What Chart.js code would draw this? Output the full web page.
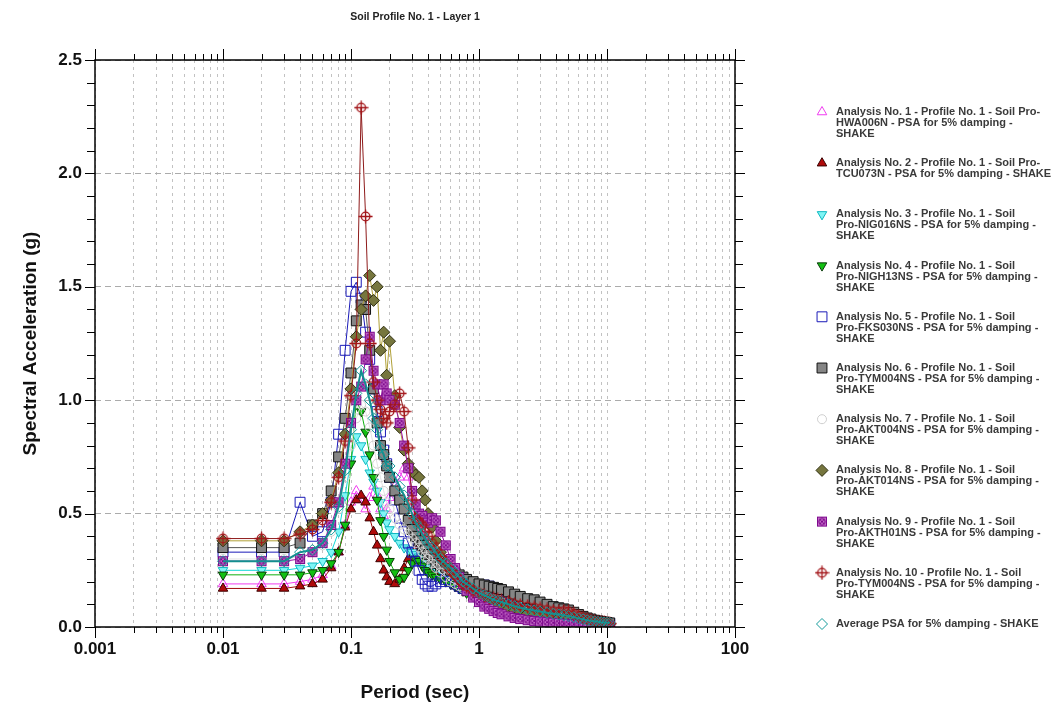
<!DOCTYPE html>
<html>
<head>
<meta charset="utf-8">
<title>Soil Profile No. 1 - Layer 1</title>
<script src="https://cdn.jsdelivr.net/npm/chart.js@4.4.1/dist/chart.umd.min.js"></script>
<style>
  html, body { margin: 0; padding: 0; background: #fff; }
  #wrap { position: relative; width: 1053px; height: 704px; }
</style>
</head>
<body>
<div id="wrap"><canvas id="chart"></canvas></div>
<script>
// spectral periods (sec) shared by every analysis
const periods = [
  0.01, 0.02, 0.03, 0.04, 0.05, 0.06, 0.07, 0.08, 0.09, 0.10,
  0.11, 0.12, 0.13, 0.14, 0.15, 0.16, 0.17, 0.18, 0.19, 0.20,
  0.22, 0.24, 0.26, 0.28, 0.30, 0.32, 0.34, 0.36, 0.38, 0.40,
  0.43, 0.46, 0.50, 0.55, 0.60, 0.65, 0.70, 0.75, 0.80, 0.90,
  1.0, 1.1, 1.2, 1.3, 1.4, 1.5, 1.7, 1.9, 2.1, 2.4,
  2.7, 3.0, 3.4, 3.8, 4.2, 4.6, 5.0, 5.5, 6.0, 6.5,
  7.0, 7.5, 8.0, 8.5, 9.0, 9.5, 10.0, 10.5
];

// PSA (g), 5% damping
const psaHWA006N = [
  .19, .19, .19, .20, .21, .23, .27, .33, .45, .55,
  .60, .56, .52, .57, .62, .58, .52, .49, .52, .57,
  .62, .66, .70, .66, .58, .50, .46, .43, .40, .38,
  .35, .33, .30, .27, .24, .22, .20, .18, .17, .15,
  .13, .12, .11, .10, .09, .085, .075, .065, .058, .05,
  .045, .04, .036, .032, .029, .026, .024, .022, .02, .018,
  .017, .016, .015, .014, .013, .012, .012, .011
];
const psaTCU073N = [
  .17, .17, .17, .18, .19, .21, .26, .33, .44, .52,
  .56, .58, .55, .48, .42, .36, .30, .25, .22, .20,
  .19, .21, .26, .30, .33, .35, .33, .30, .28, .26,
  .25, .24, .24, .22, .20, .18, .17, .16, .15, .13,
  .12, .11, .10, .09, .085, .08, .07, .065, .06, .055,
  .05, .045, .04, .036, .033, .03, .028, .025, .022, .02,
  .018, .016, .015, .014, .013, .012, .011, .010
];
const psaNIG016NS = [
  .25, .25, .25, .26, .27, .29, .33, .42, .58, .74,
  .84, .80, .74, .68, .64, .60, .55, .50, .46, .43,
  .40, .37, .35, .34, .33, .32, .31, .30, .29, .28,
  .27, .26, .25, .24, .22, .21, .20, .19, .18, .17,
  .16, .155, .15, .145, .14, .135, .13, .125, .12, .115,
  .11, .11, .105, .09, .075, .065, .058, .05, .044, .038,
  .034, .03, .027, .024, .022, .02, .018, .016
];
const psaNIGH13NS = [
  .23, .23, .23, .23, .24, .25, .28, .33, .45, .72,
  1.00, .95, .86, .76, .66, .56, .47, .40, .34, .29,
  .24, .21, .22, .25, .28, .30, .29, .27, .25, .24,
  .23, .22, .21, .20, .19, .18, .17, .16, .15, .14,
  .13, .12, .115, .11, .10, .095, .085, .08, .075, .07,
  .065, .06, .055, .05, .046, .042, .04, .036, .032, .029,
  .026, .024, .022, .02, .018, .017, .016, .015
];
const psaFKS030NS = [
  .33, .33, .33, .55, .40, .42, .55, .85, 1.22, 1.48,
  1.52, 1.45, 1.30, 1.18, 1.05, .95, .86, .78, .72, .66,
  .56, .48, .42, .37, .33, .29, .25, .21, .19, .18,
  .18, .19, .20, .21, .20, .19, .18, .17, .17, .17,
  .18, .185, .18, .17, .155, .14, .12, .11, .10, .09,
  .08, .072, .065, .058, .052, .047, .043, .038, .034, .03,
  .027, .025, .023, .021, .019, .018, .017, .016
];
const psaTYM004NS = [
  .35, .35, .35, .37, .45, .50, .60, .75, .92, 1.12,
  1.35, 1.42, 1.40, 1.22, 1.05, .90, .80, .76, .71, .66,
  .60, .56, .52, .47, .43, .40, .38, .36, .34, .32,
  .30, .28, .27, .26, .25, .24, .23, .22, .21, .20,
  .19, .185, .18, .175, .17, .165, .155, .145, .135, .125,
  .12, .11, .10, .09, .085, .08, .075, .065, .055, .047,
  .04, .035, .03, .027, .024, .022, .02, .018
];
const psaAKT004NS = [
  .30, .30, .30, .31, .33, .36, .42, .52, .66, .80,
  .92, .98, .95, .88, .80, .72, .66, .60, .55, .52,
  .48, .45, .43, .41, .39, .37, .35, .33, .31, .30,
  .28, .26, .24, .22, .20, .19, .18, .17, .16, .15,
  .14, .13, .12, .11, .105, .10, .09, .08, .075, .068,
  .062, .057, .052, .048, .044, .041, .038, .034, .031, .028,
  .025, .023, .021, .019, .018, .017, .016, .015
];
const psaAKT014NS = [
  .38, .38, .38, .42, .45, .50, .56, .68, .85, 1.05,
  1.28, 1.40, 1.46, 1.55, 1.44, 1.50, 1.22, 1.30, 1.11, 1.26,
  1.02, .88, .78, .72, .69, .67, .66, .60, .56, .50,
  .44, .38, .33, .29, .26, .23, .21, .19, .17, .15,
  .13, .12, .11, .10, .095, .09, .08, .072, .066, .06,
  .055, .05, .046, .042, .039, .036, .034, .03, .027, .025,
  .023, .021, .019, .018, .017, .016, .015, .014
];
const psaAKTH01NS = [
  .29, .29, .29, .30, .33, .37, .45, .55, .72, .90,
  1.00, 1.06, 1.18, 1.28, 1.13, 1.07, 1.00, 1.07, 1.03, 1.00,
  .98, .90, .80, .70, .60, .54, .50, .49, .47, .46,
  .48, .47, .42, .36, .30, .26, .22, .19, .16, .13,
  .11, .09, .08, .07, .062, .056, .047, .04, .035, .03,
  .027, .024, .021, .019, .017, .015, .014, .012, .011, .010,
  .009, .008, .008, .007, .007, .006, .006, .005
];
const psaTYM004NS10 = [
  .39, .39, .39, .41, .43, .47, .55, .66, .82, 1.02,
  1.25, 2.29, 1.81, 1.25, 1.08, 1.00, .96, .92, .90, .95,
  .98, 1.03, .95, .79, .56, .48, .46, .45, .42, .40,
  .37, .34, .31, .28, .25, .23, .21, .19, .18, .16,
  .15, .14, .13, .125, .12, .115, .11, .10, .095, .09,
  .085, .08, .075, .07, .068, .07, .068, .058, .048, .04,
  .034, .029, .025, .022, .02, .018, .016, .015
];
const psaAverage = [
  .29, .29, .29, .33, .34, .37, .43, .53, .69, .87,
  1.03, 1.13, 1.07, 1.00, .92, .87, .79, .76, .71, .71,
  .66, .62, .58, .54, .50, .46, .44, .41, .39, .37,
  .35, .33, .30, .28, .26, .24, .22, .20, .19, .17,
  .15, .14, .13, .12, .115, .11, .10, .092, .085, .078,
  .073, .068, .063, .058, .055, .052, .048, .043, .038, .034,
  .03, .027, .025, .023, .021, .02, .019, .018
];

const legendLines = [
  ['Analysis No. 1 - Profile No. 1 - Soil Pro-', 'HWA006N - PSA for 5% damping -', 'SHAKE'],
  ['Analysis No. 2 - Profile No. 1 - Soil Pro-', 'TCU073N - PSA for 5% damping - SHAKE'],
  ['Analysis No. 3 - Profile No. 1 - Soil', 'Pro-NIG016NS - PSA for 5% damping -', 'SHAKE'],
  ['Analysis No. 4 - Profile No. 1 - Soil', 'Pro-NIGH13NS - PSA for 5% damping -', 'SHAKE'],
  ['Analysis No. 5 - Profile No. 1 - Soil', 'Pro-FKS030NS - PSA for 5% damping -', 'SHAKE'],
  ['Analysis No. 6 - Profile No. 1 - Soil', 'Pro-TYM004NS - PSA for 5% damping -', 'SHAKE'],
  ['Analysis No. 7 - Profile No. 1 - Soil', 'Pro-AKT004NS - PSA for 5% damping -', 'SHAKE'],
  ['Analysis No. 8 - Profile No. 1 - Soil', 'Pro-AKT014NS - PSA for 5% damping -', 'SHAKE'],
  ['Analysis No. 9 - Profile No. 1 - Soil', 'Pro-AKTH01NS - PSA for 5% damping -', 'SHAKE'],
  ['Analysis No. 10 - Profile No. 1 - Soil', 'Pro-TYM004NS - PSA for 5% damping -', 'SHAKE'],
  ['Average PSA for 5% damping - SHAKE']
];

const chartTitle = 'Soil Profile No. 1 - Layer 1';
const xDecades = [0.001, 0.01, 0.1, 1, 10, 100];
const xTickLabels = ['0.001', '0.01', '0.1', '1', '10', '100'];
const yTickLabels = ['0.0', '0.5', '1.0', '1.5', '2.0', '2.5'];

const FONT = '"Liberation Sans", Arial, sans-serif';

// log grid: 1..9 in every decade
const xGridValues = [];
xDecades.forEach((d, i) => {
  if (i === xDecades.length - 1) { xGridValues.push(d); return; }
  for (let m = 1; m <= 9; m++) xGridValues.push(+(m * d).toPrecision(3));
});
const isDecade = v => xDecades.some(d => Math.abs(d - v) < d * 1e-6);

// small bitmap markers for the two composite symbols
function makeMarker(size, draw) {
  const c = document.createElement('canvas');
  c.width = size; c.height = size;
  draw(c.getContext('2d'), size);
  return c;
}
const boxedCross = makeMarker(12, g => {
  g.fillStyle = '#c36ac6';
  g.fillRect(1, 1, 10, 10);
  g.strokeStyle = '#7e0a8e';
  g.lineWidth = 1;
  g.strokeRect(1.5, 1.5, 9, 9);
  g.beginPath(); g.arc(6, 6, 3.2, 0, Math.PI * 2); g.stroke();
  g.beginPath();
  g.moveTo(3.8, 3.8); g.lineTo(8.2, 8.2);
  g.moveTo(8.2, 3.8); g.lineTo(3.8, 8.2);
  g.stroke();
});
const ringCross = makeMarker(15, g => {
  g.strokeStyle = '#a3161a';
  g.lineWidth = 1.3;
  g.beginPath(); g.arc(7.5, 7.5, 4.3, 0, Math.PI * 2); g.stroke();
  g.beginPath();
  g.moveTo(7.5, 0.5); g.lineTo(7.5, 14.5);
  g.moveTo(0.5, 7.5); g.lineTo(14.5, 7.5);
  g.stroke();
});

function series(values, style) {
  return Object.assign({
    data: values.map((v, i) => ({ x: periods[i], y: v })),
    borderWidth: 1,
    pointBorderWidth: 1,
    pointRadius: 5.5,
    pointRotation: 0,
    tension: 0,
    fill: false
  }, style);
}

const datasets = [
  series(psaHWA006N, { borderColor: '#f03cf0', pointStyle: 'triangle', pointBackgroundColor: 'rgba(255,255,255,0)', pointBorderColor: '#f03cf0' }),
  series(psaTCU073N, { borderColor: '#a00808', pointStyle: 'triangle', pointBackgroundColor: '#b00a0a', pointBorderColor: '#3a0000' }),
  series(psaNIG016NS, { borderColor: '#10d8d8', pointStyle: 'triangle', pointRotation: 180, pointBackgroundColor: '#7ff5f5', pointBorderColor: '#10b8c0' }),
  series(psaNIGH13NS, { borderColor: '#10b010', pointStyle: 'triangle', pointRotation: 180, pointBackgroundColor: '#12c012', pointBorderColor: '#0a3a0a' }),
  series(psaFKS030NS, { borderColor: '#1a1ab8', pointStyle: 'rect', pointRadius: 7, pointBackgroundColor: 'rgba(255,255,255,0)', pointBorderColor: '#1a1ab8' }),
  series(psaTYM004NS, { borderColor: '#555555', pointStyle: 'rect', pointRadius: 7, pointBackgroundColor: '#858585', pointBorderColor: '#111111' }),
  series(psaAKT004NS, { borderColor: '#e2e2e2', pointStyle: 'circle', pointRadius: 4.5, pointBackgroundColor: 'rgba(255,255,255,0)', pointBorderColor: '#cfcfcf' }),
  series(psaAKT014NS, { borderColor: '#b0a038', pointStyle: 'rectRot', pointRadius: 6, pointBackgroundColor: '#76763e', pointBorderColor: '#2e2e10' }),
  series(psaAKTH01NS, { borderColor: '#9a0aa4', pointStyle: boxedCross, pointBackgroundColor: '#c36ac6', pointBorderColor: '#7e0a8e' }),
  series(psaTYM004NS10, { borderColor: '#8e1a1a', pointStyle: ringCross, pointBackgroundColor: '#ffffff', pointBorderColor: '#a3161a' }),
  series(psaAverage, { borderColor: '#138f8f', borderWidth: 2, pointStyle: 'rectRot', pointRadius: 5.5, pointBackgroundColor: 'rgba(255,255,255,0)', pointBorderColor: '#149a9a' })
];
// later analyses sit on top, the average last
datasets.forEach((ds, i) => { ds.order = datasets.length - 1 - i; });

const plotDecor = {
  id: 'plotDecor',
  afterDraw(chart) {
    const { ctx, chartArea: a, scales: { x, y } } = chart;
    ctx.save();

    // tick marks on all four sides
    ctx.strokeStyle = '#000';
    ctx.lineWidth = 1;
    ctx.beginPath();
    xGridValues.forEach(v => {
      const px = Math.round(x.getPixelForValue(v)) + 0.5;
      const len = isDecade(v) ? 11 : 6;
      ctx.moveTo(px, a.bottom); ctx.lineTo(px, a.bottom + len);
      ctx.moveTo(px, a.top); ctx.lineTo(px, a.top - len);
    });
    for (let k = 0; k <= 25; k++) {
      const py = Math.round(y.getPixelForValue(k / 10)) + 0.5;
      const len = k % 5 === 0 ? 10 : 8;
      ctx.moveTo(a.left, py); ctx.lineTo(a.left - len, py);
      ctx.moveTo(a.right, py); ctx.lineTo(a.right + len, py);
    }
    ctx.stroke();

    ctx.lineWidth = 1.5;
    ctx.strokeRect(a.left, a.top, a.right - a.left, a.bottom - a.top);

    ctx.fillStyle = '#222';
    ctx.font = 'bold 10.5px ' + FONT;
    ctx.textAlign = 'center';
    ctx.textBaseline = 'middle';
    ctx.fillText(chartTitle, (a.left + a.right) / 2, 17);

    // legend column
    const top = 112, step = 51.2, mx = 822, tx = 836, lh = 11;
    ctx.textAlign = 'left';
    ctx.font = 'bold 11px ' + FONT;
    chart.data.datasets.forEach((ds, i) => {
      const ly = top + i * step;
      ctx.fillStyle = ds.pointBackgroundColor;
      ctx.strokeStyle = ds.pointBorderColor;
      ctx.lineWidth = ds.pointBorderWidth;
      Chart.helpers.drawPoint(ctx, {
        pointStyle: ds.pointStyle,
        rotation: ds.pointRotation,
        radius: ds.pointRadius,
        borderWidth: ds.pointBorderWidth
      }, mx, ly);
      ctx.fillStyle = '#3a3a3a';
      legendLines[i].forEach((t, j) => ctx.fillText(t, tx, ly + j * lh));
    });
    ctx.restore();
  }
};

new Chart(document.getElementById('chart'), {
  type: 'line',
  data: { datasets },
  options: {
    responsive: true,
    maintainAspectRatio: false,
    animation: false,
    layout: { padding: { top: 60, right: 318, left: 0, bottom: 0 } },
    plugins: { legend: { display: false }, tooltip: { enabled: false }, title: { display: false } },
    scales: {
      x: {
        type: 'logarithmic',
        min: 0.001,
        max: 100,
        afterBuildTicks: scale => { scale.ticks = xGridValues.map(v => ({ value: v })); },
        afterFit: scale => { scale.height = 77; },
        ticks: {
          autoSkip: false,
          maxRotation: 0,
          padding: 12,
          color: '#111',
          font: { family: FONT, size: 17, weight: 'bold' },
          callback: v => {
            const k = xDecades.findIndex(d => Math.abs(d - v) < d * 1e-6);
            return k >= 0 ? xTickLabels[k] : '';
          }
        },
        grid: { color: '#c2c2c2', lineWidth: 1, drawTicks: false },
        border: { display: false, dash: [3, 4] },
        title: { display: true, text: 'Period (sec)', color: '#111', font: { family: FONT, size: 19, weight: 'bold' }, padding: { top: 0, bottom: 0 } }
      },
      y: {
        min: 0,
        max: 2.5,
        afterFit: scale => { scale.width = 95; },
        ticks: {
          stepSize: 0.5,
          padding: 13,
          color: '#111',
          font: { family: FONT, size: 17, weight: 'bold' },
          callback: (v, i) => yTickLabels[i]
        },
        grid: { color: '#ababab', lineWidth: 1, drawTicks: false },
        border: { display: false, dash: [6, 4] },
        title: { display: true, text: 'Spectral Acceleration (g)', color: '#111', font: { family: FONT, size: 19, weight: 'bold' }, padding: { top: 19, bottom: 0 } }
      }
    }
  },
  plugins: [plotDecor]
});
</script>
</body>
</html>
